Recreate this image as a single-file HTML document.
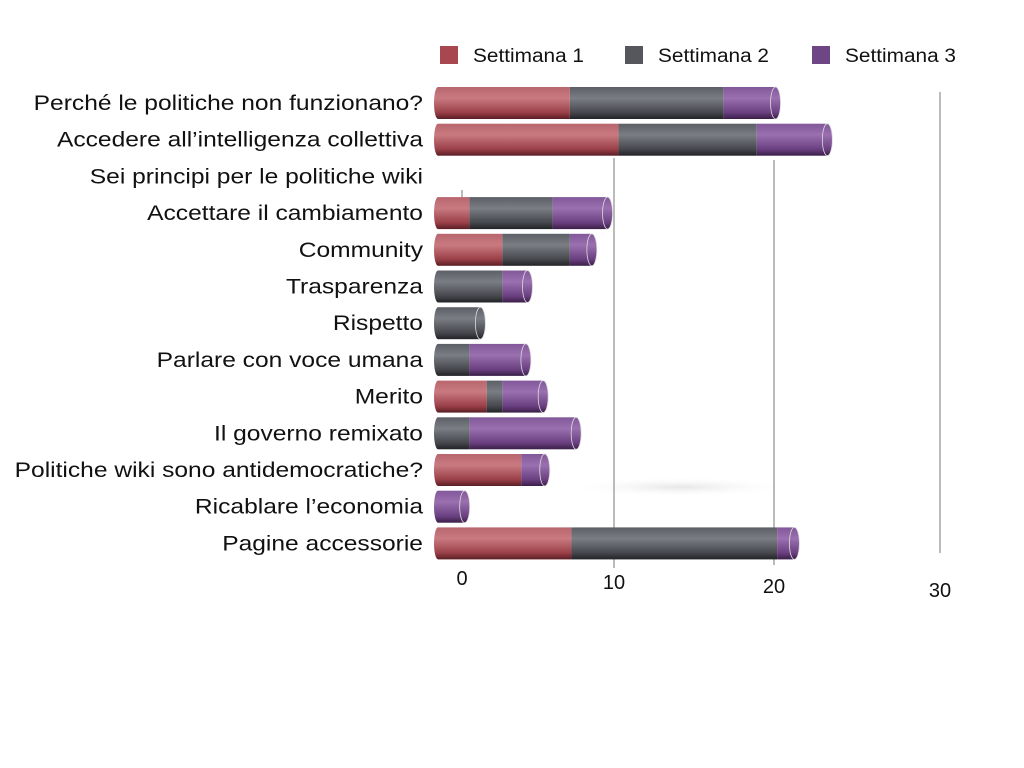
<!DOCTYPE html>
<html><head><meta charset="utf-8"><style>
html,body{margin:0;padding:0;background:#fff;}
svg{display:block;font-family:"Liberation Sans",sans-serif;}
</style></head><body>
<svg id="chart" width="1024" height="768" viewBox="0 0 1024 768" xmlns="http://www.w3.org/2000/svg">
<defs>
<linearGradient id="g0" x1="0" y1="0" x2="0" y2="1"><stop offset="0" stop-color="#b8666d"/><stop offset="0.35" stop-color="#c97a80"/><stop offset="0.8" stop-color="#9a3f47"/><stop offset="1" stop-color="#5a1e24"/></linearGradient>
<linearGradient id="g1" x1="0" y1="0" x2="0" y2="1"><stop offset="0" stop-color="#5d5f66"/><stop offset="0.35" stop-color="#7b7d84"/><stop offset="0.8" stop-color="#45474d"/><stop offset="1" stop-color="#222326"/></linearGradient>
<linearGradient id="g2" x1="0" y1="0" x2="0" y2="1"><stop offset="0" stop-color="#82589a"/><stop offset="0.35" stop-color="#9a70b0"/><stop offset="0.8" stop-color="#6a3f80"/><stop offset="1" stop-color="#3a1f48"/></linearGradient>
<radialGradient id="sh"><stop offset="0" stop-color="#e6e6e6"/><stop offset="1" stop-color="#fff" stop-opacity="0"/></radialGradient>
</defs>
<g id="grid"></g>
<g id="labels"></g>
<g id="bars"></g>
<g id="ticks"></g>
<g id="legend"></g>
</svg>
<script>
const categories=["Perché le politiche non funzionano?","Accedere all’intelligenza collettiva","Sei principi per le politiche wiki","Accettare il cambiamento","Community","Trasparenza","Rispetto","Parlare con voce umana","Merito","Il governo remixato","Politiche wiki sono antidemocratiche?","Ricablare l’economia","Pagine accessorie"];
const week1=[8.4,11.5,0,2,4.1,0,0,0,3.1,0,5.3,0,8.5];
const week2=[9.8,8.8,0,5.3,4.3,4.1,2.7,2,1,2,0,0,13.1];
const week3=[3.3,4.5,0,3.5,1.4,1.6,0,3.6,2.6,6.8,1.5,1.7,1.1];
const seriesNames=["Settimana 1","Settimana 2","Settimana 3"];
const tickValues=[0,10,20,30];
const NS="http://www.w3.org/2000/svg";
const x0=438, unit=15.7;
const xScale=v=>x0+v*unit;
const yScale=i=>103+i*36.7;
const STRETCH=1.17;
function mk(tag,attrs,parent){const e=document.createElementNS(NS,tag);for(const k in attrs)e.setAttribute(k,attrs[k]);parent.appendChild(e);return e;}
function widen(t){const L=t.getComputedTextLength();t.setAttribute('textLength',L*STRETCH);t.setAttribute('lengthAdjust','spacingAndGlyphs');}
const grid=document.getElementById('grid'),labels=document.getElementById('labels'),bars=document.getElementById('bars'),ticks=document.getElementById('ticks'),legend=document.getElementById('legend');
const gx=[462,614,774,940], gTop=[190,158,160,92], gBot=[215,568,565,553], tY=[585,589,593,597];
mk('ellipse',{cx:680,cy:487,rx:115,ry:10,fill:'url(#sh)'},grid);
tickValues.forEach((t,i)=>{
 const l=mk('line',{x1:gx[i],x2:gx[i],y1:gTop[i],y2:gBot[i],stroke:'#bbb','stroke-width':2},grid);
 
 
 const tx=mk('text',{x:gx[i],y:tY[i],'text-anchor':'middle','font-size':20,fill:'#111'},ticks);
 tx.textContent=t;
 
 
});
categories.forEach((c,i)=>{
 const y=yScale(i);
 const t=mk('text',{x:423,y:y+7,'text-anchor':'end','font-size':21,fill:'#111'},labels);
 t.textContent=c;
 
 
 widen(t);
 const vals=[week1[i],week2[i],week3[i]];
 let acc=0;let lastEnd=null;
 vals.forEach((v,s)=>{
  if(v<=0)return;
  const a=xScale(acc),b=xScale(acc+v);acc+=v;
  const r=mk('rect',{x:a,y:y-16,width:b-a,height:32,fill:'url(#g'+s+')'},bars);
  
  
  lastEnd=[b,s];
 });
 if(lastEnd){
  mk('ellipse',{cx:x0,cy:y,rx:4,ry:16,fill:'url(#g'+(week1[i]>0?0:week2[i]>0?1:2)+')'},bars);
  const e=mk('ellipse',{cx:lastEnd[0],cy:y,rx:5,ry:16,fill:'url(#g'+lastEnd[1]+')',stroke:'#ddd','stroke-width':0.8},bars);
  
  
 }
});
const lx=[440,625,812],colors=['#a8474f','#55575d','#6e4585'];
seriesNames.forEach((n,s)=>{
 const r=mk('rect',{x:lx[s],y:46,width:18,height:18,fill:colors[s]},legend);
 
 
 const t=mk('text',{x:lx[s]+33,y:62,'font-size':19,fill:'#111'},legend);
 t.textContent=n;
 
 
 const L=t.getComputedTextLength();t.setAttribute('textLength',111);t.setAttribute('lengthAdjust','spacingAndGlyphs');
});
</script>
</body></html>
